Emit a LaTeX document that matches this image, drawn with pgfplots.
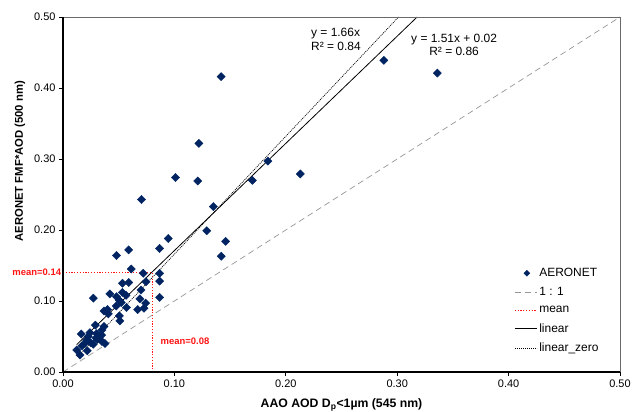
\documentclass[border=0pt]{standalone}
\usepackage{pgfplots}
\pgfplotsset{compat=1.18}
\usepackage{fontspec}
\setmainfont{Liberation Sans}
\definecolor{navy}{RGB}{0,36,98}
\definecolor{onegray}{RGB}{150,150,150}
\definecolor{meanred}{RGB}{255,20,20}
\pgfplotsset{lineleg/.style={legend image code/.code={\draw[##1] (0bp,0bp) -- (22bp,0bp);}},
  markleg/.style={legend image code/.code={\draw[##1, mark size=2.1bp] plot coordinates {(12bp,0bp)};}}}
\begin{document}
\begin{tikzpicture}
\begin{axis}[
  at={(0,0)}, anchor=origin,
  scale only axis, width=557bp, height=355bp,
  xmin=0, xmax=0.5, ymin=0, ymax=0.5,
  xtick={0,0.1,...,0.5}, ytick={0,0.1,...,0.5},
  xtick pos=bottom, ytick pos=left,
  tick align=outside, major tick length=4bp,
  tick style={black, line width=0.8pt},
  axis line style={draw=none},
  /pgf/number format/assume math mode=true,
  /pgf/number format/.cd, fixed, fixed zerofill, precision=2, /pgfplots/.cd,
  ticklabel style={font=\fontsize{11}{13}\selectfont},
  xlabel={\textbf{AAO AOD D\textsubscript{p}<1µm (545 nm)}},
  ylabel={\textbf{AERONET FMF*AOD (500 nm)}},
  xlabel style={font=\fontsize{12.3}{14}\selectfont, at={(axis description cs:0.5,0)}, anchor=center, yshift=-33bp},
  ylabel style={font=\fontsize{11.3}{13}\selectfont, at={(axis description cs:0,0.594)}, anchor=center, yshift=43bp},
  legend style={draw=none, fill=none, at={(rel axis cs:0.808,0.301)}, anchor=north west,
    font=\fontsize{12}{14}\selectfont, row sep=5.3bp, inner sep=1bp},
  legend cell align=left,
  clip=false,
]
\addplot[markleg, only marks, mark=square*, mark size=2.9bp, navy, mark options={rotate=45, fill=navy, draw=navy}]
  coordinates {
(0.288,0.439) (0.336,0.421) (0.142,0.416) (0.122,0.322) (0.101,0.274)
(0.121,0.269) (0.170,0.270) (0.184,0.297) (0.213,0.279) (0.135,0.233)
(0.0705,0.243) (0.129,0.199) (0.146,0.184) (0.142,0.163) (0.0945,0.188)
(0.0867,0.174) (0.059,0.172) (0.048,0.164) (0.0613,0.145) (0.072,0.139)
(0.0867,0.139) (0.0745,0.127) (0.0867,0.128) (0.059,0.126) (0.0535,0.125)
(0.070,0.1155) (0.042,0.110) (0.0533,0.112) (0.0566,0.108) (0.048,0.106)
(0.0506,0.101) (0.0272,0.104) (0.0867,0.105) (0.069,0.103) (0.0742,0.097)
(0.0523,0.098) (0.0478,0.093) (0.057,0.091) (0.0727,0.0897) (0.067,0.088)
(0.040,0.088) (0.0368,0.086) (0.0407,0.082) (0.0506,0.079) (0.051,0.072)
(0.029,0.066) (0.0368,0.064) (0.035,0.059) (0.0164,0.0535) (0.0242,0.0554)
(0.0302,0.054) (0.0347,0.052) (0.0227,0.050) (0.0296,0.048) (0.0212,0.045)
(0.0308,0.046) (0.035,0.043) (0.0377,0.040) (0.0194,0.040) (0.017,0.037)
(0.0272,0.039) (0.0123,0.031) (0.0218,0.030) (0.0153,0.024) (0.025,0.041)
  };
\addlegendentry{AERONET}
\addplot[lineleg, onegray, line width=0.7pt, dash pattern=on 6bp off 4bp] coordinates {(0,0) (0.5,0.5)};
\addlegendentry{1 : 1}
\addplot[lineleg, meanred, line width=1.1pt, dash pattern=on 1.2bp off 1.6bp] coordinates {(0,0.14) (0.08,0.14) (0.08,0)};
\addlegendentry{mean}
\addplot[lineleg, black, line width=0.8pt] coordinates {(0.0123,0.0386) (0.3179,0.5)};
\addlegendentry{linear}
\addplot[lineleg, black, line width=0.7pt, dash pattern=on 1bp off 1bp] coordinates {(0.015,0.0249) (0.3012,0.5)};
\addlegendentry{linear\_zero}
% axis frame
\draw[onegray!70!black, line width=0.7pt] (rel axis cs:0,1) -- (rel axis cs:1,1) -- (rel axis cs:1,0);
\draw[black, line width=1.1pt] (rel axis cs:0,1) -- (rel axis cs:0,0) -- (rel axis cs:1,0);
% annotations
\node[font=\fontsize{12}{13.5}\selectfont, align=left, anchor=west, inner sep=0pt] at (axis cs:0.2226,0.4685) {y = 1.66x\\R² = 0.84};
\node[font=\fontsize{12}{13.5}\selectfont, align=center, anchor=west, inner sep=0pt] at (axis cs:0.3124,0.4606) {y = 1.51x + 0.02\\R² = 0.86};
\node[font=\bfseries\fontsize{9.5}{11}\selectfont, text=meanred, anchor=east, inner sep=0pt] at (axis cs:-0.0015,0.14) {mean=0.14};
\node[font=\bfseries\fontsize{9.5}{11}\selectfont, text=meanred, anchor=west, inner sep=0pt] at (axis cs:0.0875,0.0435) {mean=0.08};
\end{axis}
\pgfresetboundingbox
\useasboundingbox (-63bp,-40bp) rectangle (570bp,372bp);
\end{tikzpicture}
\end{document}
